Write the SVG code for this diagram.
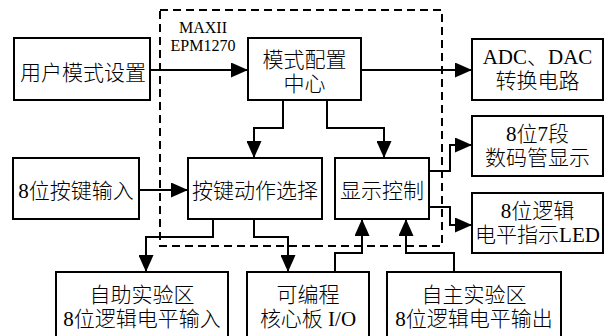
<svg xmlns="http://www.w3.org/2000/svg" width="609" height="336" viewBox="0 0 609 336">
<defs>
<marker id="ah" markerUnits="userSpaceOnUse" markerWidth="17" markerHeight="15" refX="17" refY="7.5" orient="auto">
<path d="M0,0 L17,7.5 L0,15 z" fill="#000"/>
</marker>
<style>
.box{fill:#fff;stroke:#000;stroke-width:2}
.t{font-family:"Liberation Serif","Noto Sans CJK SC",serif;font-size:21px;font-weight:300;fill:#000;text-anchor:middle}
.s{font-family:"Liberation Serif",serif;font-size:16px;fill:#000;text-anchor:middle}
.c{fill:none;stroke:#000;stroke-width:2;marker-end:url(#ah)}
.dash{fill:none;stroke:#000;stroke-width:2;stroke-dasharray:8,5}
</style>
</defs>
<rect width="609" height="336" fill="#fff"/>
<g id="fpga">
<rect class="dash" x="160" y="10" width="282" height="236"/>
<text class="s" x="203" y="33">MAXII</text>
<text class="s" x="203" y="51">EPM1270</text>
</g>
<g id="connectors">
<path class="c" d="M150,70 H248"/>
<path class="c" d="M361,70 H472"/>
<path class="c" d="M283,100 V128 H254 V158"/>
<path class="c" d="M327,100 V128 H384 V158"/>
<path class="c" d="M139,190 H188"/>
<path class="c" d="M213,219 V237 H146 V272"/>
<path class="c" d="M254,219 V237 H288 V272"/>
<path class="c" d="M335,272 V253 H362 V219"/>
<path class="c" d="M454,272 V253 H406 V219"/>
<path class="c" d="M429,171 H450 V145 H472"/>
<path class="c" d="M429,207 H450 V225 H472"/>
</g>
<g id="user-mode">
<rect class="box" x="14" y="38" width="136" height="62"/>
<text class="t" x="83" y="80">用户模式设置</text>
</g>
<g id="mode-center">
<rect class="box" x="248" y="38" width="113" height="62"/>
<text class="t" x="304.5" y="67">模式配置</text>
<text class="t" x="304.5" y="91">中心</text>
</g>
<g id="adc-dac">
<rect class="box" x="472" y="39" width="131" height="61"/>
<text class="t" x="537.5" y="64">ADC、DAC</text>
<text class="t" x="537.5" y="88">转换电路</text>
</g>
<g id="seg7">
<rect class="box" x="472" y="116" width="131" height="60"/>
<text class="t" x="537.5" y="141">8位7段</text>
<text class="t" x="537.5" y="165">数码管显示</text>
</g>
<g id="key-input">
<rect class="box" x="13" y="158" width="126" height="61"/>
<text class="t" x="76" y="198">8位按键输入</text>
</g>
<g id="key-select">
<rect class="box" x="188" y="158" width="134" height="61"/>
<text class="t" x="255" y="198">按键动作选择</text>
</g>
<g id="display-ctrl">
<rect class="box" x="335" y="158" width="94" height="61"/>
<text class="t" x="382" y="198">显示控制</text>
</g>
<g id="led">
<rect class="box" x="472" y="193" width="131" height="60"/>
<text class="t" x="537.5" y="218">8位逻辑</text>
<text class="t" x="537.5" y="242">电平指示LED</text>
</g>
<g id="self-help">
<rect class="box" x="56" y="272" width="172" height="70"/>
<text class="t" x="142" y="302">自助实验区</text>
<text class="t" x="142" y="326">8位逻辑电平输入</text>
</g>
<g id="core-io">
<rect class="box" x="247" y="272" width="122" height="70"/>
<text class="t" x="308" y="302">可编程</text>
<text class="t" x="308" y="326">核心板 I/O</text>
</g>
<g id="self-main">
<rect class="box" x="387" y="272" width="174" height="70"/>
<text class="t" x="474" y="302">自主实验区</text>
<text class="t" x="474" y="326">8位逻辑电平输出</text>
</g>
</svg>
